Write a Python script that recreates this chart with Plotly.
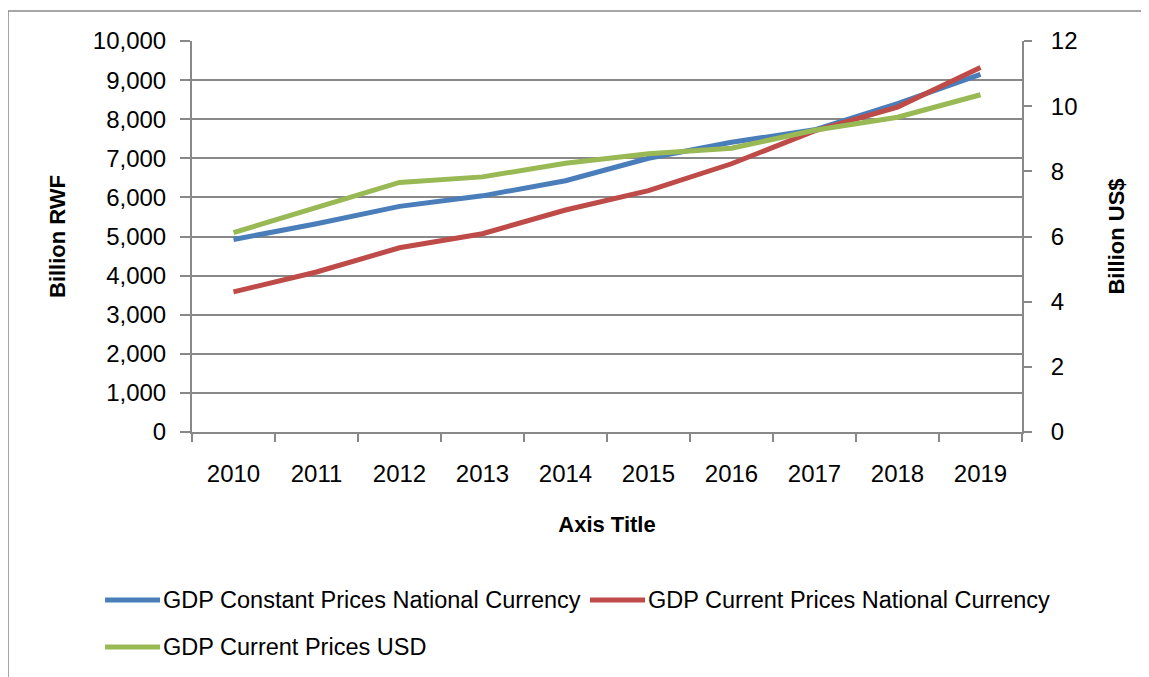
import plotly.graph_objects as go

years = ["2010", "2011", "2012", "2013", "2014", "2015", "2016", "2017", "2018", "2019"]
gdp_constant_rwf = [4923, 5324, 5770, 6040, 6427, 7000, 7410, 7728, 8398, 9147]
gdp_current_rwf = [3582, 4092, 4712, 5070, 5677, 6172, 6860, 7700, 8310, 9322]
gdp_current_usd = [6.12, 6.90, 7.66, 7.83, 8.25, 8.54, 8.71, 9.26, 9.66, 10.35]

names = ["GDP Constant Prices National Currency",
         "GDP Current Prices National Currency",
         "GDP Current Prices USD"]
colors = ["#4A7EBB", "#BE4B48", "#98B954"]

OFF = 8  # page body margin offset
W, H = 1149 - OFF, 677 - OFF
L, R, T, B = 192 - OFF, 1022 - OFF, 41 - OFF, 432 - OFF  # plot area pixel bounds
FONT = "Liberation Sans"
GRID = "#888888"


def px(xp):
    return (xp - OFF - L) / (R - L)


def py(yp):
    return (B - (yp - OFF)) / (B - T)


fig = go.Figure()
fig.add_trace(go.Scatter(x=years, y=gdp_constant_rwf, name=names[0], mode="lines",
                         line=dict(color=colors[0], width=5), yaxis="y"))
fig.add_trace(go.Scatter(x=years, y=gdp_current_rwf, name=names[1], mode="lines",
                         line=dict(color=colors[1], width=5), yaxis="y"))
fig.add_trace(go.Scatter(x=years, y=gdp_current_usd, name=names[2], mode="lines",
                         line=dict(color=colors[2], width=5), yaxis="y2"))

fig.update_layout(
    width=W, height=H,
    margin=dict(l=L, r=W - R, t=T, b=H - B, autoexpand=False),
    paper_bgcolor="white", plot_bgcolor="white",
    showlegend=False,
    font=dict(family=FONT, size=24, color="black"),
    xaxis=dict(
        type="category", tickson="boundaries", range=[-0.5, 9.5],
        showline=True, linecolor=GRID, linewidth=2,
        ticks="outside", ticklen=8, tickwidth=1.5, tickcolor=GRID,
        showgrid=False, ticklabelstandoff=19,
        title=dict(text="<b>Axis Title</b>", standoff=31, font=dict(size=22)),
        tickfont=dict(size=24),
    ),
    yaxis=dict(
        range=[0, 10000], dtick=1000, tickformat=",",
        showline=True, linecolor=GRID, linewidth=2,
        ticks="outside", ticklen=10, tickwidth=1.5, tickcolor=GRID,
        showgrid=True, gridcolor=GRID, gridwidth=1.5,
        zeroline=False, ticklabelstandoff=9,
        title=dict(text="<b>Billion RWF</b>", standoff=21, font=dict(size=22)),
        tickfont=dict(size=24),
    ),
    yaxis2=dict(
        range=[0, 12], dtick=2, overlaying="y", side="right",
        showline=True, linecolor=GRID, linewidth=2,
        ticks="outside", ticklen=8, tickwidth=1.5, tickcolor=GRID,
        showgrid=False, zeroline=False, ticklabelstandoff=14,
        title=dict(text="<b>Billion US$</b>", standoff=32, font=dict(size=22)),
        tickfont=dict(size=24),
    ),
)

# outer chart border (top and left edges visible)
fig.add_shape(type="line", xref="paper", yref="paper",
              x0=px(8), x1=px(1149 + 5), y0=py(11), y1=py(11),
              line=dict(color=GRID, width=1.5))
fig.add_shape(type="line", xref="paper", yref="paper",
              x0=px(8), x1=px(8), y0=py(11), y1=py(677 + 5),
              line=dict(color=GRID, width=1.5))

# manual legend
legend_pos = [(105, 600), (590, 600), (105, 647)]
for (lx, ly), name, col in zip(legend_pos, names, colors):
    fig.add_shape(type="line", xref="paper", yref="paper",
                  x0=px(lx), x1=px(lx + 55), y0=py(ly), y1=py(ly),
                  line=dict(color=col, width=5))
    fig.add_annotation(xref="paper", yref="paper", x=px(lx + 56), y=py(ly),
                       text=name, showarrow=False, xanchor="left", yanchor="middle",
                       font=dict(family=FONT, size=23.5, color="black"))

fig.write_html("out.html")
